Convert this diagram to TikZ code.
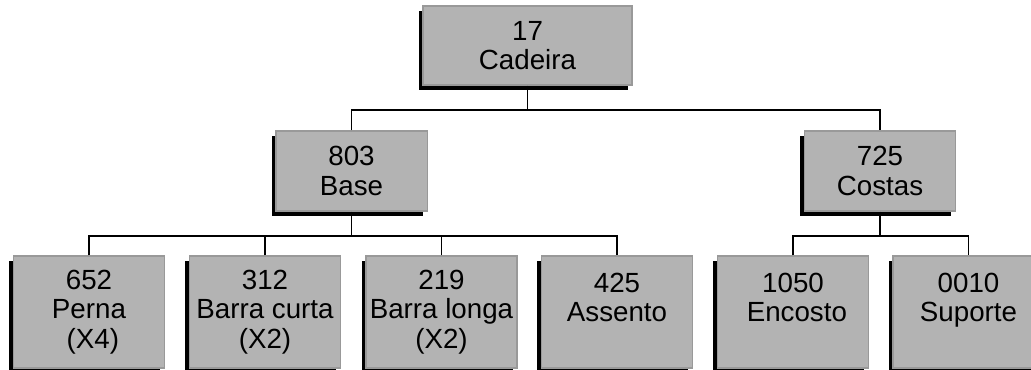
\documentclass[tikz,border=0pt]{standalone}
\usepackage{fontspec}
\setmainfont{Liberation Sans}
\usetikzlibrary{shadows}

\definecolor{partfill}{HTML}{B3B3B3}
\definecolor{partedge}{HTML}{999999}

\tikzset{every picture/.style={line width=1.1pt}}
\tikzset{
  part/.style={rectangle, fill=partfill, draw=partedge, line width=1.1pt,
    general shadow={fill=black, shadow xshift=-3.2pt, shadow yshift=-3.75pt},
    align=center, inner sep=0pt,
    font=\fontsize{20.8}{22}\selectfont},
  toppart/.style={part, minimum width=156.75pt, minimum height=59.25pt},
  midpart/.style={part, minimum width=113.6pt, minimum height=60pt},
  leafpart/.style={part, minimum width=113.25pt, minimum height=84pt},
  link/.style={draw=black, line width=1.1pt}
}

\begin{document}
\begin{tikzpicture}[x=0.75pt,y=0.75pt,yscale=-1,xscale=1]
        \useasboundingbox (0,0) rectangle (1031,370);
        \clip (0,0) rectangle (1031,370);

        % tree bars
        \coordinate (bartop) at (527.5,110);
        \coordinate (barbase) at (351.5,236);
        \coordinate (barcostas) at (880,236);

        \node [toppart] (cadeira) at (527.5,45.5) {17\\Cadeira};

        \node [midpart] (base) at (351.5,171) {803\\Base};
        \node [midpart] (costas) at (880,171) {725\\Costas};

        \node [leafpart] (perna) at (89,312) {652\\Perna\\\ (X4)};
        \node [leafpart] (curta) at (265,312) {312\\Barra curta\\(X2)};
        \node [leafpart] (longa) at (441.5,312) {219\\Barra longa\\(X2)};
        \node [leafpart] (assento) at (617,312) {425\\Assento\\~};
        \node [leafpart] (encosto) at (793,312) {1050\\\ Encosto\\~};
        \node [leafpart] (suporte) at (968.5,312) {0010\\Suporte\\~};

        \draw [link] (cadeira.south) -- (bartop);
        \draw [link] (base.north) |- (bartop) -| (costas.north);

        \draw [link] (base.south) -- (barbase);
        \draw [link] (perna.north) |- (barbase) -| (assento.north);
        \draw [link] (curta.north) -- (curta.north |- barbase);
        \draw [link] (longa.north) -- (longa.north |- barbase);

        \draw [link] (costas.south) -- (barcostas);
        \draw [link] (encosto.north) |- (barcostas) -| (suporte.north);
    \end{tikzpicture}
\end{document}
